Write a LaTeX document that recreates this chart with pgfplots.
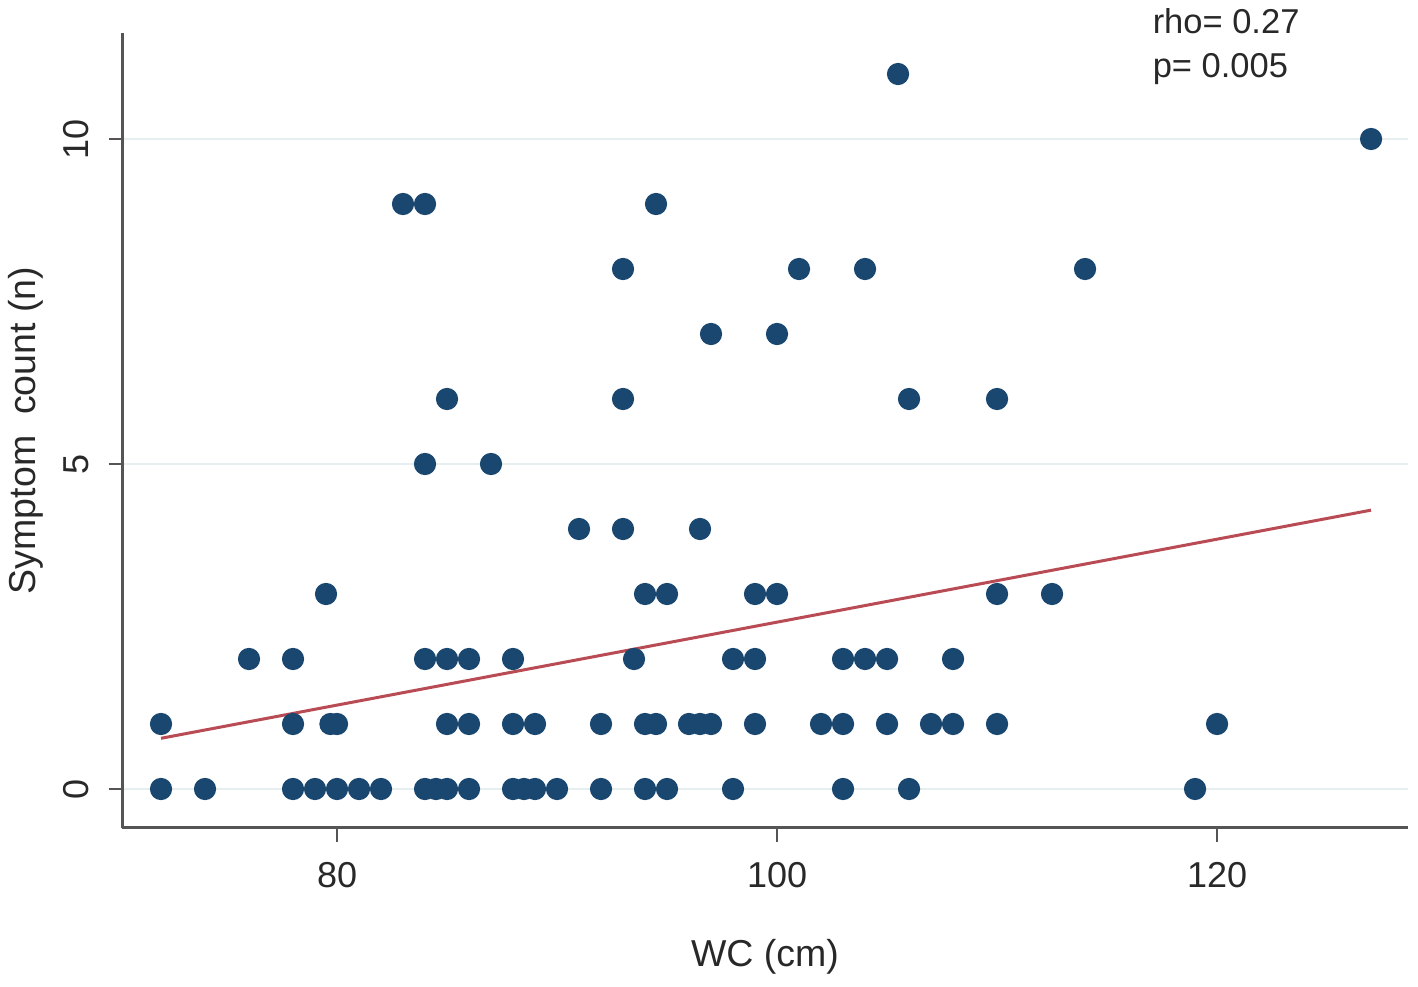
\documentclass[border=0pt]{standalone}
\usepackage{pgfplots}
\pgfplotsset{compat=1.18}
\usepackage{fontspec}
\setmainfont{Liberation Sans}
\definecolor{navy}{RGB}{26,71,111}
\definecolor{fitred}{RGB}{185,75,85}
\definecolor{gridc}{RGB}{230,238,240}
\definecolor{axc}{RGB}{85,85,85}
\definecolor{txt}{RGB}{40,40,40}
\begin{document}
\begin{tikzpicture}
\begin{axis}[
  name=ax,
  scale only axis,
  width=428.67pt, height=265pt,
  xmin=70.227, xmax=128.68,
  ymin=-0.6, ymax=11.631,
  axis lines*=left,
  axis line style={axc, line width=1pt},
  xtick={80,100,120}, ytick={0,5,10},
  tick align=outside,
  major tick length=4.5pt,
  tick style={axc, line width=0.9pt},
  ymajorgrids, grid style={gridc, line width=0.9pt},
  /pgf/number format/assume math mode=true,
  ticklabel style={font=\fontsize{12}{14}\selectfont, text=txt},
  xticklabel style={anchor=base, yshift=-15.3pt},
  yticklabel style={anchor=base, xshift=-6.7pt, rotate=90},
  xlabel={WC (cm)}, ylabel={Symptom\ \ count (n)},
  label style={font=\fontsize{12.5}{14}\selectfont, text=txt},
  xlabel style={at={(axis description cs:0.5,-0.1748)}, anchor=base},
  ylabel style={at={(axis description cs:-0.0676,0.5)}, anchor=base},
  clip=false,
]
\addplot[only marks, mark=*, mark size=3.5pt, color=navy] coordinates {
(72,0) (74,0) (78,0) (79,0) (80,0) (81,0) (82,0) (84,0) (84.5,0) (85,0) (86,0)
(88,0) (88.5,0) (89,0) (90,0) (92,0) (94,0) (95,0) (98,0) (103,0) (106,0) (119,0)
(72,1) (78,1) (79.7,1) (80,1) (85,1) (86,1) (88,1) (89,1) (92,1) (94,1) (94.5,1)
(96,1) (96.5,1) (97,1) (99,1) (102,1) (103,1) (105,1) (107,1) (108,1) (110,1) (120,1)
(76,2) (78,2) (84,2) (85,2) (86,2) (88,2) (93.5,2) (98,2) (99,2) (103,2) (104,2) (105,2) (108,2)
(79.5,3) (94,3) (95,3) (99,3) (100,3) (110,3) (112.5,3)
(91,4) (93,4) (96.5,4)
(84,5) (87,5)
(85,6) (93,6) (106,6) (110,6)
(97,7) (100,7)
(93,8) (101,8) (104,8) (114,8)
(83,9) (84,9) (94.5,9)
(127,10)
(105.5,11)
};
\addplot[fitred, line width=1pt] coordinates {(72,0.78) (127,4.29)};
\node[anchor=base west, text=txt, font=\fontsize{11.5}{13}\selectfont, inner sep=0pt] at (axis cs:117.05,11.63) {rho= 0.27};
\node[anchor=base west, text=txt, font=\fontsize{11.5}{13}\selectfont, inner sep=0pt] at (axis cs:117.05,10.94) {p= 0.005};
\end{axis}
\pgfresetboundingbox
\path ([xshift=-40.67pt,yshift=-52.67pt]ax.south west) rectangle ([xshift=3.33pt,yshift=11pt]ax.north east);
\end{tikzpicture}
\end{document}
